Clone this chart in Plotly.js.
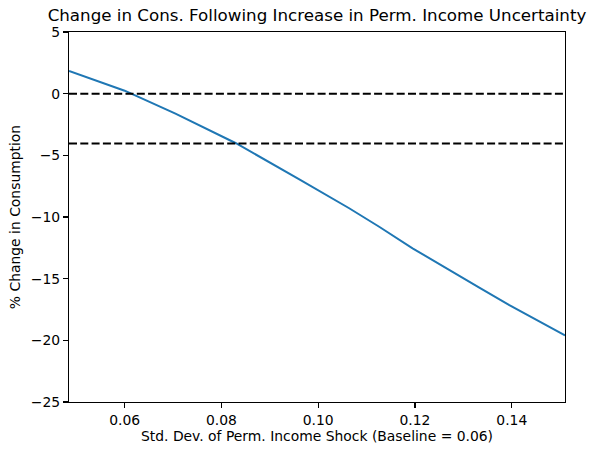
<!DOCTYPE html>
<html>
<head>
<meta charset="utf-8">
<script src="https://cdn.plot.ly/plotly-3.0.1.min.js"></script>
<style>
  html, body { margin: 0; padding: 0; background: #fff; }
  #chart { width: 594px; height: 455px; }
</style>
</head>
<body>
<div id="chart"></div>
<script>
// permanent income shock std. dev. and resulting % change in consumption
const sigmaValues = [0.0485, 0.06, 0.0705, 0.083, 0.0961, 0.1064, 0.1126, 0.1195, 0.1332, 0.1395, 0.151];
const consChange = [1.84, 0.24, -1.62, -4.02, -6.94, -9.29, -10.79, -12.54, -15.7, -17.14, -19.6];

// horizontal reference levels (dashed)
const refLevels = [0, -4.05];

const xTicks = [0.06, 0.08, 0.10, 0.12, 0.14];
const xTickText = ['0.06', '0.08', '0.10', '0.12', '0.14'];
const yTicks = [-25, -20, -15, -10, -5, 0, 5];

const font = 'DejaVu Sans, sans-serif';

const consTrace = {
    x: sigmaValues,
    y: consChange,
    mode: 'lines',
    line: { color: '#1f77b4', width: 2 },
    hoverinfo: 'skip',
};

const shapes = refLevels.map(v => ({
    type: 'line',
    xref: 'paper', x0: 0, x1: 1,
    yref: 'y', y0: v, y1: v,
    line: { color: '#000', width: 2, dash: '8px,3.3px' },
}));

const axisCommon = {
    showgrid: false,
    zeroline: false,
    showline: true,
    mirror: true,
    linecolor: '#000',
    linewidth: 1.1,
    ticks: 'outside',
    ticklen: 5,
    tickwidth: 1.1,
    tickcolor: '#000',
    tickfont: { family: font, size: 13.9, color: '#000' },
};

const layout = {
    width: 594,
    height: 455,
    margin: { l: 69, r: 29, t: 32, b: 53 },
    paper_bgcolor: '#fff',
    plot_bgcolor: '#fff',
    showlegend: false,
    font: { family: font, color: '#000' },
    title: {
        text: 'Change in Cons. Following Increase in Perm. Income Uncertainty',
        font: { family: font, size: 16.7, color: '#000' },
        x: 0.5, xref: 'paper',
        y: 0.967, yref: 'container', yanchor: 'middle',
    },
    xaxis: Object.assign({}, axisCommon, {
        range: [0.0485, 0.151],
        tickvals: xTicks,
        ticktext: xTickText,
        title: { text: 'Std. Dev. of Perm. Income Shock (Baseline = 0.06)', font: { family: font, size: 13.9, color: '#000' }, standoff: 4 },
    }),
    yaxis: Object.assign({}, axisCommon, {
        range: [-25, 5],
        tickvals: yTicks,
        title: { text: '% Change in Consumption', font: { family: font, size: 13.9, color: '#000' }, standoff: 6 },
    }),
    shapes: shapes,
};

Plotly.newPlot('chart', [consTrace], layout, { staticPlot: true, displayModeBar: false });
</script>
</body>
</html>
